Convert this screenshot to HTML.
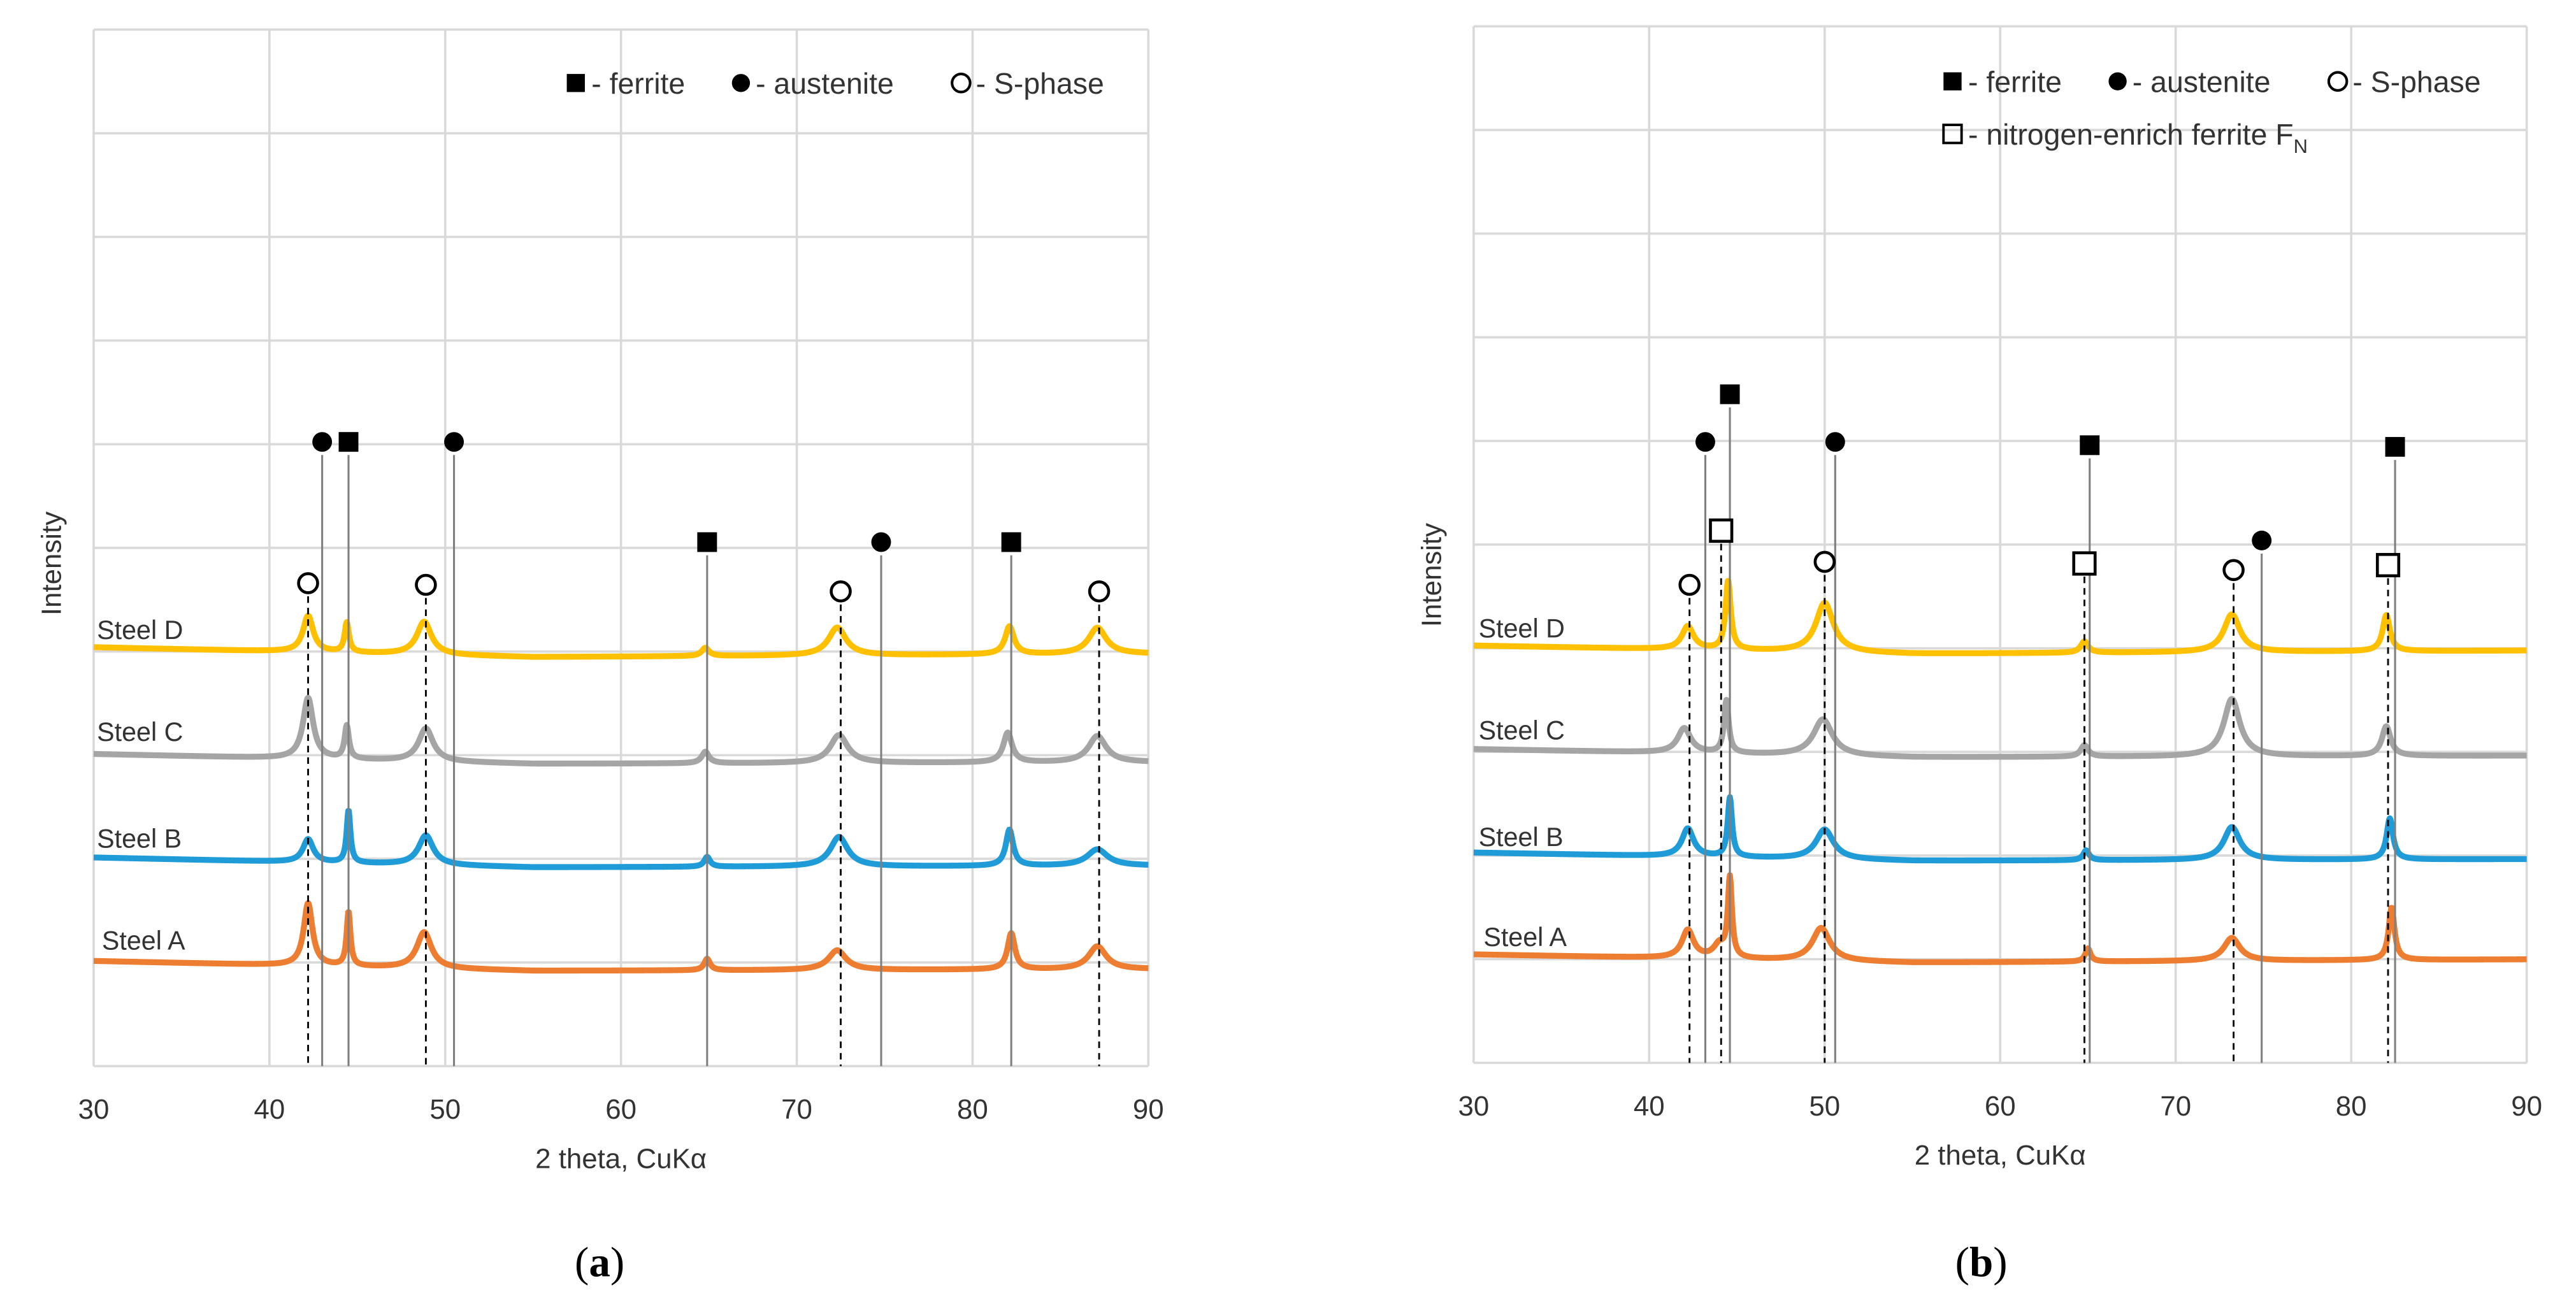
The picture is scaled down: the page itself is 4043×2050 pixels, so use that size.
<!DOCTYPE html>
<html><head><meta charset="utf-8"><style>
html,body{margin:0;padding:0;background:#fff;}
svg{display:block;}
text{font-family:"Liberation Sans",sans-serif;fill:#333;}
</style></head><body>
<svg id="root" width="4043" height="2050" viewBox="0 0 1568 795" xmlns="http://www.w3.org/2000/svg">
<g id="pa"></g>
<g id="pb"></g>
</svg>
<script>
const xTicks=[30,40,50,60,70,80,90];
const seriesNames=["Steel D","Steel C","Steel B","Steel A"];
const colors=["#FFC000","#A5A5A5","#1F9BD8","#ED7D31"];
// panel a: peaks [center, height, halfwidth]
const aPeaksD=[[42.2,22,0.35],[44.4,18,0.15],[48.8,20,0.5],[64.8,5,0.25],[72.3,17,0.6],[82.1,17,0.3],[87.1,16,0.6]];
const aPeaksC=[[42.2,37,0.35],[44.4,20,0.15],[48.9,20,0.5],[64.8,7,0.25],[72.4,17,0.6],[82.0,18,0.3],[87.1,16,0.6]];
const aPeaksB=[[42.2,14,0.35],[44.5,32,0.13],[48.9,18,0.5],[64.9,6,0.2],[72.4,18,0.6],[82.1,22,0.25],[87.1,10,0.7]];
const aPeaksA=[[42.2,38,0.3],[44.5,33,0.13],[48.8,22,0.5],[64.9,7,0.2],[72.3,12,0.6],[82.2,22,0.25],[87.1,14,0.6]];
const aBase=[[394,400,398],[459,465,464],[522,528,527],[585,591,590]];
// panel b
const bPeaksD=[[42.2,14,0.4],[44.5,42,0.18],[50.0,30,0.6],[64.8,7,0.25],[73.2,23,0.55],[82.0,22,0.25]];
const bPeaksC=[[42.0,15,0.45],[44.4,32,0.16],[49.9,22,0.65],[64.8,7,0.25],[73.2,35,0.55],[82.0,18,0.3]];
const bPeaksB=[[42.2,17,0.4],[44.6,36,0.15],[50.0,18,0.6],[64.9,6,0.2],[73.2,20,0.55],[82.2,25,0.22]];
const bPeaksA=[[42.2,17,0.4],[44.0,8,0.4],[44.6,48,0.14],[49.8,20,0.6],[65.0,8,0.18],[73.2,14,0.55],[82.3,32,0.2]];
const bBase=[[393,398,396],[456,461,460],[519,524,523],[581,586,584]];
// phase reference lines: [2theta, markerY, kind]
const aSolid=[[43.0,269,"aus"],[44.5,269,"fer"],[50.5,269,"aus"],[64.9,330,"fer"],[74.8,330,"aus"],[82.2,330,"fer"]];
const aDashed=[[42.2,355,"s"],[48.9,356,"s"],[72.5,360,"s"],[87.2,360,"s"]];
const bSolid=[[43.2,269,"aus"],[44.6,240,"fer"],[50.6,269,"aus"],[65.1,271,"fer"],[74.9,329,"aus"],[82.5,272,"fer"]];
const bDashed=[[42.3,356,"s"],[44.1,323,"fn"],[50.0,342,"s"],[64.8,343,"fn"],[73.3,347,"s"],[82.1,344,"fn"]];

const NS="http://www.w3.org/2000/svg";
function mk(parent,tag,attrs,txt){const e=document.createElementNS(NS,tag);for(const k in attrs)e.setAttribute(k,attrs[k]);if(txt!==undefined)e.textContent=txt;parent.appendChild(e);return e;}

function panel(g,P,peaks,bases,solid,dashed,legend2,label){
  const xs=v=>P.x0+(v-30)/60*(P.x1-P.x0);
  for(let i=0;i<=10;i++){const y=P.y0+(P.y1-P.y0)*i/10;
    const l=mk(g,"line",{x1:P.x0,x2:P.x1,y1:y,y2:y,stroke:"#D9D9D9","stroke-width":1.4});
    
    }
  xTicks.forEach(t=>{const x=xs(t);
    const l=mk(g,"line",{x1:x,x2:x,y1:P.y0,y2:P.y1,stroke:"#D9D9D9","stroke-width":1.4});
    
    
    const tx=mk(g,"text",{x:x,y:P.y1+32,"text-anchor":"middle","font-size":17},String(t));
    
    });
  const lg=mk(g,"g",{});
  
  
  const L=P.leg;
  mk(lg,"rect",{x:L.x,y:L.y-12,width:11,height:11,fill:"#000"});
  mk(lg,"text",{x:L.x+15,y:L.y,"font-size":18},"- ferrite");
  mk(lg,"circle",{cx:L.x+106,cy:L.y-6.5,r:5.5,fill:"#000"});
  mk(lg,"text",{x:L.x+115,y:L.y,"font-size":18},"- austenite");
  mk(lg,"circle",{cx:L.x+240,cy:L.y-6.5,r:5.5,fill:"none",stroke:"#000","stroke-width":1.6});
  mk(lg,"text",{x:L.x+249,y:L.y,"font-size":18},"- S-phase");
  if(legend2){
    mk(lg,"rect",{x:L.x,y:L.y+20,width:11,height:11,fill:"none",stroke:"#000","stroke-width":1.5});
    const t=mk(lg,"text",{x:L.x+15,y:L.y+32,"font-size":18},"- nitrogen-enrich ferrite F");
    mk(t,"tspan",{dy:5,"font-size":12},"N");
  }
  peaks.forEach((pk,si)=>{
    const b=bases[si];let d="";
    for(let v=30;v<=90.001;v+=0.04){
      const base=v<55?b[0]+(b[1]-b[0])*(v-30)/25:b[1]+(b[2]-b[1])*(v-55)/35;
      let y=base;pk.forEach(p=>{const u=(v-p[0])/p[2];y-=p[1]/(1+u*u);});
      d+=(d?"L":"M")+xs(v).toFixed(2)+","+y.toFixed(2);}
    const path=mk(g,"path",{d:d,fill:"none",stroke:colors[si],"stroke-width":3.6,"stroke-linejoin":"round"});
    
    
    const t=mk(g,"text",{x:P.lab[si][0],y:P.lab[si][1],"font-size":16},seriesNames[si]);
    
    
  });
  function marker(kind,x,y){
    let e;
    if(kind==="fer")e=mk(g,"rect",{x:x-6,y:y-6,width:12,height:12,fill:"#000"});
    else if(kind==="aus")e=mk(g,"circle",{cx:x,cy:y,r:6,fill:"#000"});
    else if(kind==="s")e=mk(g,"circle",{cx:x,cy:y,r:5.8,fill:"#fff",stroke:"#000","stroke-width":1.8});
    else e=mk(g,"rect",{x:x-6.5,y:y-6.5,width:13,height:13,fill:"#fff",stroke:"#000","stroke-width":1.8});
    
    
  }
  solid.forEach(s=>{const x=xs(s[0]);
    const l=mk(g,"line",{x1:x,x2:x,y1:s[1]+8,y2:P.y1,stroke:"#7F7F7F","stroke-width":1.2});
    
    
    marker(s[2],x,s[1]);});
  dashed.forEach(s=>{const x=xs(s[0]);
    const l=mk(g,"line",{x1:x,x2:x,y1:s[1]+8,y2:P.y1,stroke:"#000","stroke-width":1.1,"stroke-dasharray":"4,3"});
    
    
    marker(s[2],x,s[1]);});
  const xt=mk(g,"text",{x:(P.x0+P.x1)/2,y:P.y1+62,"text-anchor":"middle","font-size":17},"2 theta, CuKα");
  
  
  const yt=mk(g,"text",{x:0,y:0,transform:`translate(${P.yt[0]},${P.yt[1]}) rotate(-90)`,"text-anchor":"middle","font-size":17},"Intensity");
  
  
  const pl=mk(g,"text",{x:P.pl[0],y:P.pl[1],"text-anchor":"middle","font-size":26,style:"font-family:'Liberation Serif',serif;fill:#000"},"(");
  mk(pl,"tspan",{"font-weight":"bold"},label);
  pl.appendChild(document.createTextNode(")"));
  
  
}
panel(document.getElementById("pa"),{x0:57,x1:699,y0:18,y1:649,leg:{x:345,y:57},
  lab:[[59,389],[59,451],[59,516],[62,578]],yt:[37,343],pl:[365,777]},
  [aPeaksD,aPeaksC,aPeaksB,aPeaksA],aBase,aSolid,aDashed,false,"a");
panel(document.getElementById("pb"),{x0:897,x1:1538,y0:16,y1:647,leg:{x:1183,y:56},
  lab:[[900,388],[900,450],[900,515],[903,576]],yt:[877,350],pl:[1206,777]},
  [bPeaksD,bPeaksC,bPeaksB,bPeaksA],bBase,bSolid,bDashed,true,"b");
</script>
</body></html>
